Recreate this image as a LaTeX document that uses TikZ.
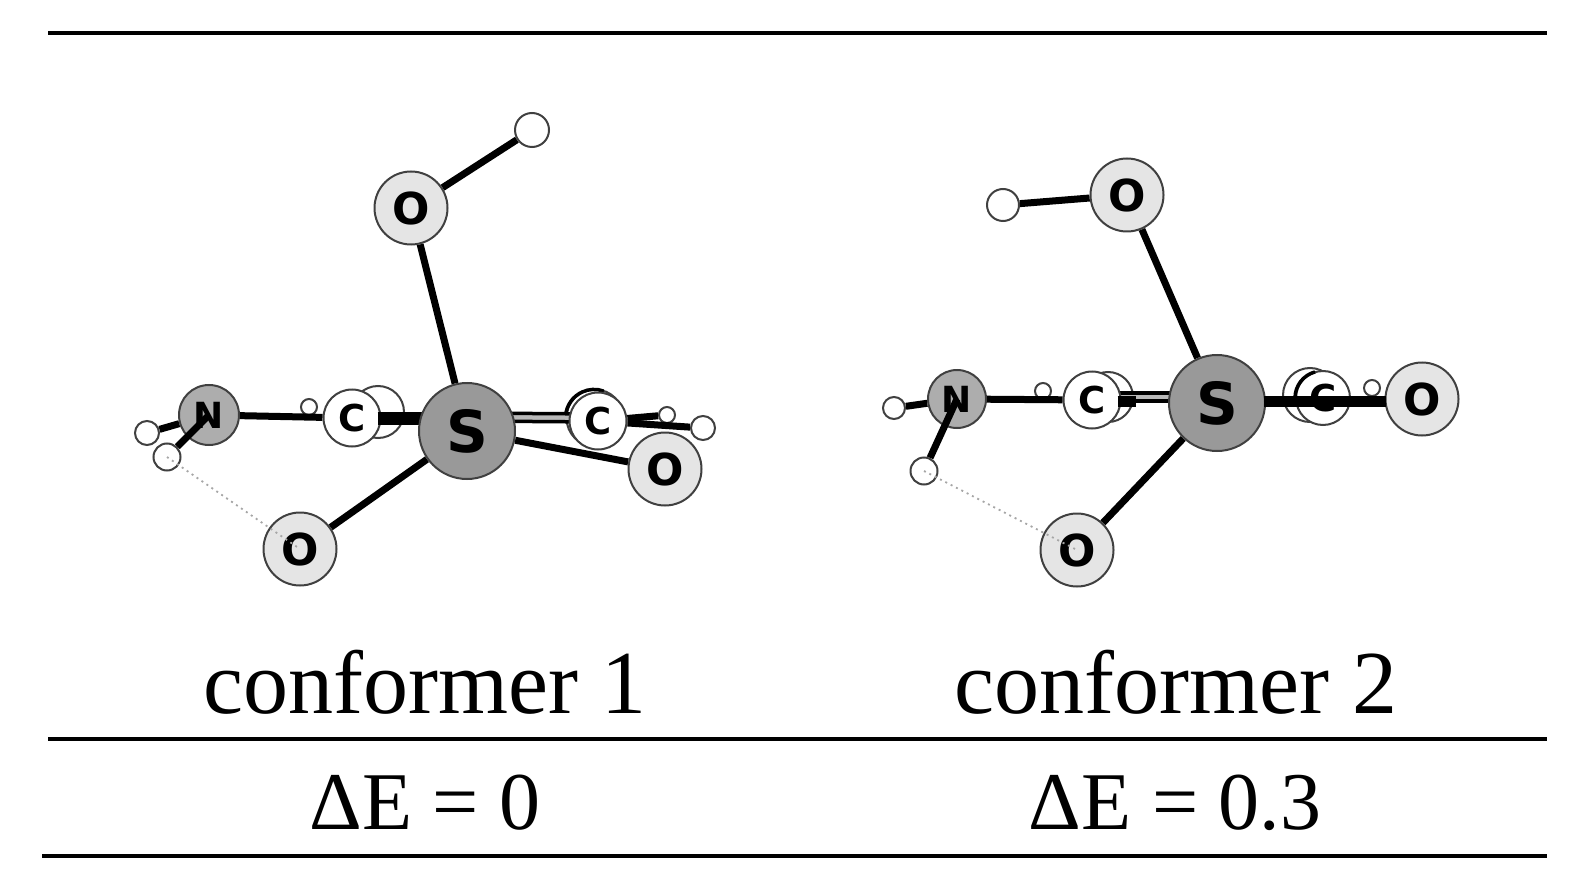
\documentclass[tikz,border=0pt]{standalone}
\usepackage{fontspec}
\setmainfont{Liberation Serif}
\newfontfamily\atomfont{DejaVu Sans}[BoldFont={DejaVu Sans Bold}]
\usetikzlibrary{calc}
\pgfdeclarelayer{bonds}
\pgfdeclarelayer{backatoms}
\pgfsetlayers{backatoms,bonds,main}
\definecolor{heavy}{gray}{0.60}
\definecolor{nitro}{gray}{0.68}
\definecolor{oxy}{gray}{0.90}
\definecolor{rimc}{gray}{0.25}
\tikzset{
  x=1pt,y=-1pt,
  atom/.style={circle,draw=rimc,line width=2pt,inner sep=0pt,text=black},
  satom/.style={atom,fill=heavy,minimum size=96pt,font=\atomfont\bfseries\fontsize{58}{58}\selectfont},
  natom/.style={atom,fill=nitro,minimum size=60pt,font=\atomfont\bfseries\fontsize{36}{36}\selectfont},
  oatom/.style={atom,fill=oxy,minimum size=73pt,font=\atomfont\bfseries\fontsize{44}{44}\selectfont},
  catom/.style={atom,fill=white,minimum size=57pt,font=\atomfont\bfseries\fontsize{37}{37}\selectfont},
  hatom/.style={atom,fill=white,line width=2pt},
  bond/.style={line width=7pt,black},
  dbl/.style={line width=3.5pt,black},
  band/.style={line width=9pt,gray!55},
  rimarc/.style={line width=3.5pt,black},
  hbond/.style={line width=1.8pt,gray!70,dash pattern=on 2pt off 4pt},
  rule/.style={line width=4.6pt,black},
  caption/.style={inner sep=0pt,anchor=base,font=\fontsize{90}{90}\selectfont},
  energy/.style={inner sep=0pt,anchor=base,font=\fontsize{82}{82}\selectfont}
}
\begin{document}
\begin{tikzpicture}
\useasboundingbox (0,0) rectangle (1578,890);
% rules
\coordinate (t1) at (48,33); \coordinate (t2) at (1547,33);
\coordinate (m1) at (48,739); \coordinate (m2) at (1547,739);
\coordinate (b1) at (42,856); \coordinate (b2) at (1547,856);
\draw[rule] (t1) -- (t2);
\draw[rule] (m1) -- (m2);
\draw[rule] (b1) -- (b2);
% conformer 1
\begin{pgfonlayer}{backatoms}
\node[catom,minimum size=52pt] (Ab) at (378,412) {};
\node[catom] (Ac2b) at (595,418) {};
\draw[rimarc] (Ac2b.175) arc[start angle=175,end angle=70,radius=28.5pt];
\node[hatom,minimum size=16pt] (Ah3) at (309,407) {};
\node[hatom,minimum size=16pt] (Ah4) at (667,415) {};
\end{pgfonlayer}
\node[hatom,minimum size=34pt] (Ah0) at (532,130) {};
\node[oatom] (Ao1) at (411,208) {O};
\node[natom] (An) at (209,415) {N};
\node[hatom,minimum size=24pt] (Ah1) at (147,433) {};
\node[hatom,minimum size=27pt] (Ah2) at (167,457) {};
\node[catom] (Ac1) at (352,418) {C};
\draw[line width=13pt] ($(Ac1.east)+(-4,0)$) -- ($(Ac1.east)+(44,0)$);
\node[satom] (As) at (467,431) {S};
\node[catom] (Ac2) at (598,421) {C};
\node[hatom,minimum size=24pt] (Ah5) at (703,428) {};
\node[oatom] (Ao2) at (665,469) {O};
\node[oatom] (Ao3) at (300,549) {O};
\begin{pgfonlayer}{bonds}
\draw[bond] (Ao1) -- (Ah0);
\draw[bond] (Ao1) -- (As);
\draw[bond] (As) -- (Ao3);
\draw[bond] (As) -- (Ao2);
\draw[bond] (An) -- (Ac1);
\draw[bond] (An) -- (Ah1);
\draw[band] ($(As)+(0,-14)$) -- ($(Ac2)+(0,-3)$);
\draw[dbl] ($(As)+(0,-18)$) -- ($(Ac2)+(0,-7)$);
\draw[dbl] ($(As)+(0,-10)$) -- ($(Ac2)+(0,1)$);
\draw[bond] (Ac2) -- (Ah4);
\draw[bond] (Ac2) -- (Ah5);
\end{pgfonlayer}
\draw[bond] (An.center) -- (Ah2);
\draw[hbond] (Ah2.center) -- (Ao3.center);
% conformer 2
\begin{pgfonlayer}{backatoms}
\node[catom,minimum size=50pt] (Bb) at (1108,397) {};
\node[catom,minimum size=54pt] (Bc2b) at (1310,395) {};
\node[hatom,minimum size=16pt] (Bh3) at (1043,391) {};
\node[hatom,minimum size=16pt] (Bh4) at (1372,388) {};
\end{pgfonlayer}
\node[hatom,minimum size=32pt] (Bh0) at (1003,205) {};
\node[oatom] (Bo1) at (1127,195) {O};
\node[natom,minimum size=58pt] (Bn) at (957,399) {N};
\node[hatom,minimum size=22pt] (Bh1) at (894,408) {};
\node[hatom,minimum size=27pt] (Bh2) at (924,471) {};
\node[catom] (Bc1) at (1092,400) {C};
\draw[line width=11pt] ($(Bc1.east)+(-4,1)$) -- ($(Bc1.east)+(14,1)$);
\node[satom] (Bs) at (1217,403) {S};
\node[catom,minimum size=54pt] (Bc2) at (1323,398) {C};
\draw[rimarc] (Bc2.180) arc[start angle=180,end angle=105,radius=27pt];
\node[oatom] (Bo2) at (1422,399) {O};
\node[oatom] (Bo3) at (1077,550) {O};
\begin{pgfonlayer}{bonds}
\draw[bond] (Bo1) -- (Bh0);
\draw[bond] (Bo1) -- (Bs);
\draw[bond] (Bs) -- (Bo3);
\draw[bond] (Bn) -- (Bc1);
\draw[bond] (Bn) -- (Bh1);
\draw[band] ($(Bc1)+(0,-3)$) -- ($(Bs)+(0,-6)$);
\draw[dbl] ($(Bc1)+(0,-7)$) -- ($(Bs)+(0,-10)$);
\draw[dbl] ($(Bc1)+(0,1)$) -- ($(Bs)+(0,-2)$);
\end{pgfonlayer}
\draw[bond] (Bn.center) -- (Bh2);
\draw[line width=11pt] ($(Bs.east)+(-2,-2)$) -- ($(Bo2.west)+(1,2)$);
\draw[hbond] (Bh2.center) -- (Bo3.center);
% captions
\node[caption] (c1) at (425,713) {conformer 1};
\node[caption] (c2) at (1176,713) {conformer 2};
\node[energy] (e1) at (425,829) {ΔE = 0};
\node[energy] (e2) at (1175,829) {ΔE = 0.3};
\end{tikzpicture}
\end{document}
